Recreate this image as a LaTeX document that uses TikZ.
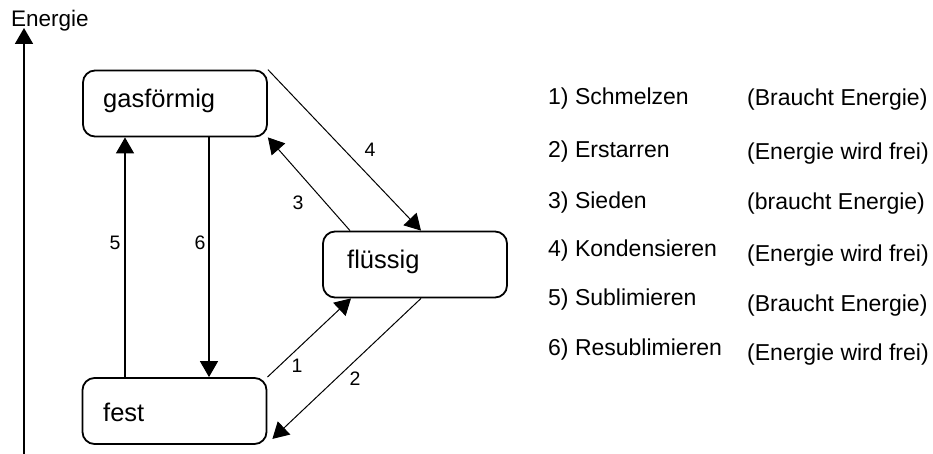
\documentclass[tikz,border=0pt]{standalone}
\usepackage{fontspec}
\setmainfont{Liberation Sans}
\usetikzlibrary{arrows.meta,calc}
\begin{document}
\begin{tikzpicture}[x=1pt,y=-1pt,
  state/.style={draw,line width=1.8pt,rounded corners=12pt,minimum width=184pt,minimum height=66pt,inner sep=0pt},
  statetext/.style={anchor=base west,inner sep=0pt,font=\fontsize{25.5}{29}\selectfont},
  numlabel/.style={inner sep=0pt,font=\fontsize{19.5}{22}\selectfont},
  listtext/.style={anchor=base west,inner sep=0pt,font=\fontsize{23}{27}\selectfont},
  tip/.style={-{Triangle[length=16pt,width=18pt]}},
  thickarr/.style={tip,line width=1.4pt},
  thinarr/.style={tip,line width=1pt}]
\useasboundingbox (0,0) rectangle (933,454);
\fill[white] (0,0) rectangle (933,454);

% axis
\coordinate (axb) at (24,454);
\coordinate (axt) at (24,28);
\draw[tip,line width=1.8pt] (axb) -- (axt);
\node[anchor=base west,inner sep=0pt,font=\fontsize{22.5}{26}\selectfont] (energie) at (11,27) {Energie};

% states
\node[state] (gas) at (175,103.5) {};
\node[state] (fest) at (174.5,411) {};
\node[state] (flu) at (415,264.5) {};
\node[statetext] (tgas) at (103,108) {gasförmig};
\node[statetext] (tfest) at (103,421) {fest};
\node[statetext] (tflu) at (347,268) {flüssig};

% helper x positions
\coordinate (c5) at (125,0);
\coordinate (c6) at (209,0);
\coordinate (c4) at (421,0);
\coordinate (c3) at (350,0);
\coordinate (c1) at (351,0);
\coordinate (c2) at (421,0);

% connectors
\draw[thickarr] (fest.north -| c5) -- (gas.south -| c5);
\draw[thickarr] (gas.south -| c6) -- (fest.north -| c6);
\draw[thinarr] (gas.north east) -- (flu.north -| c4);
\draw[thinarr] (flu.north -| c3) -- (gas.south east);
\draw[thinarr] (fest.north east) -- (flu.south -| c1);
\draw[thinarr] (flu.south -| c2) -- ([xshift=5pt,yshift=6pt]fest.south east);

% labels
\node[numlabel] (l5) at (115,243) {5};
\node[numlabel] (l6) at (200,243) {6};
\node[numlabel] (l4) at (370,150) {4};
\node[numlabel] (l3) at (298,203) {3};
\node[numlabel] (l1) at (297,366) {1};
\node[numlabel] (l2) at (355,379) {2};

% list
\node[listtext] (a1) at (548,105) {1) Schmelzen};
\node[listtext] (a2) at (548,158) {2) Erstarren};
\node[listtext] (a3) at (548,208) {3) Sieden};
\node[listtext] (a4) at (548,256) {4) Kondensieren};
\node[listtext] (a5) at (548,305) {5) Sublimieren};
\node[listtext] (a6) at (548,355) {6) Resublimieren};
\node[listtext] (b1) at (747,106) {(Braucht Energie)};
\node[listtext] (b2) at (747,160) {(Energie wird frei)};
\node[listtext] (b3) at (747,210) {(braucht Energie)};
\node[listtext] (b4) at (747,261) {(Energie wird frei)};
\node[listtext] (b5) at (747,311) {(Braucht Energie)};
\node[listtext] (b6) at (747,360) {(Energie wird frei)};
\end{tikzpicture}
\end{document}
